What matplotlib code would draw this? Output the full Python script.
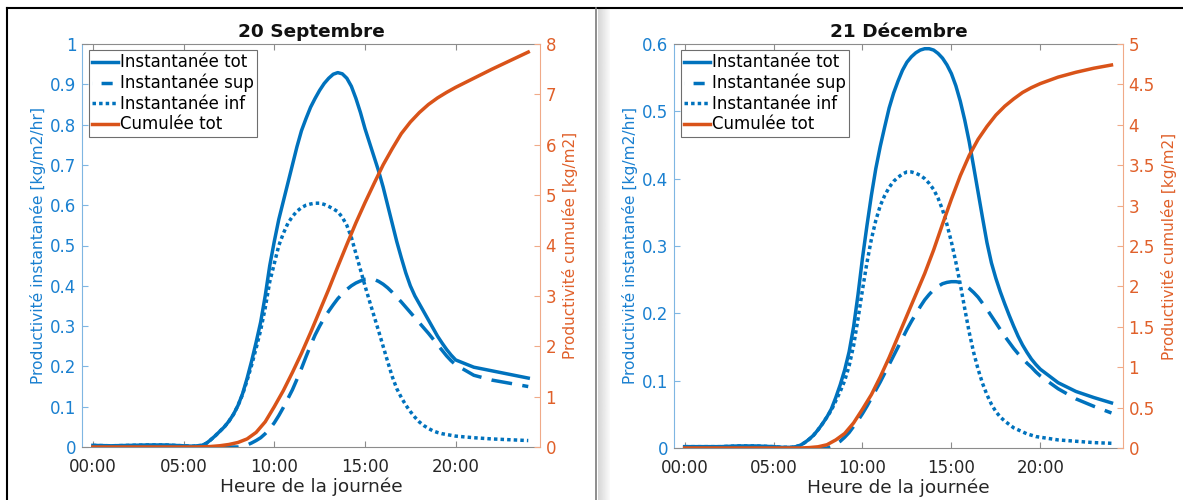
import numpy as np
import matplotlib
matplotlib.use('Agg')
import matplotlib.pyplot as plt
from matplotlib.lines import Line2D

plt.rcParams['font.family'] = ['DejaVu Sans']

BLUE = '#0072BD'
ORANGE = '#D95319'

# hours for the instantaneous curves
hours_q = [0, 1, 2, 3, 4, 5, 5.5, 6, 6.25, 6.5, 6.75, 7, 7.25, 7.5, 7.75, 8, 8.25, 8.5, 8.75,
           9, 9.25, 9.5, 9.75, 10, 10.25, 10.5, 10.75, 11, 11.25, 11.5, 11.75, 12, 12.25,
           12.5, 12.75, 13, 13.25, 13.5, 13.75, 14, 14.25, 14.5, 14.75, 15, 15.25, 15.5,
           15.75, 16, 16.25, 16.5, 16.75, 17, 17.25, 17.5, 17.75, 18, 18.25, 18.5, 18.75,
           19, 19.25, 19.5, 19.75, 20, 21, 22, 23, 24]
# hours for the cumulative curves
hours_h = [0, 1, 2, 3, 4, 5, 5.5, 6, 6.5, 7, 7.5, 8, 8.5, 9, 9.5, 10, 10.5, 11, 11.5, 12,
           12.5, 13, 13.5, 14, 14.5, 15, 15.5, 16, 16.5, 17, 17.5, 18, 18.5, 19, 19.5, 20,
           21, 22, 23, 24]

# 20 Septembre
sep_tot = [0.004, 0.003, 0.004, 0.005, 0.005, 0.003, 0.002,
           0.004, 0.009, 0.018, 0.028, 0.039, 0.05, 0.064, 0.081, 0.103,
           0.132, 0.17, 0.213, 0.26, 0.31, 0.375, 0.45, 0.51, 0.565, 0.61, 0.655, 0.70,
           0.745, 0.785, 0.815, 0.843, 0.865, 0.885, 0.902, 0.915, 0.925, 0.929, 0.926,
           0.915, 0.895, 0.865, 0.83, 0.79, 0.755, 0.72, 0.685, 0.645, 0.60, 0.555, 0.51,
           0.47, 0.432, 0.40, 0.375, 0.355, 0.335, 0.315, 0.295, 0.275, 0.258, 0.242,
           0.228, 0.216,
           0.198, 0.189, 0.18, 0.171]
sep_sup = [0, 0, 0, 0, 0, 0, 0,
           0, 0, 0, 0, 0, 0, 0, 0, 0,
           0.002, 0.005, 0.01, 0.016, 0.023, 0.033, 0.045, 0.06, 0.078, 0.098, 0.12, 0.142,
           0.168, 0.195, 0.224, 0.252, 0.278, 0.30, 0.32, 0.337, 0.353, 0.368, 0.38, 0.391,
           0.40, 0.407, 0.412, 0.416, 0.417, 0.416, 0.411, 0.404, 0.395, 0.384, 0.372, 0.36,
           0.347, 0.334, 0.321, 0.308, 0.295, 0.282, 0.268, 0.254, 0.24, 0.226, 0.214, 0.204,
           0.178, 0.166, 0.158, 0.150]
sep_inf = [0.004, 0.003, 0.004, 0.005, 0.005, 0.003, 0.002,
           0.004, 0.009, 0.018, 0.028, 0.039, 0.05, 0.064, 0.081, 0.103,
           0.13, 0.165, 0.203, 0.245, 0.29, 0.345, 0.41, 0.455, 0.50, 0.53, 0.555, 0.572,
           0.585, 0.594, 0.60, 0.603, 0.605, 0.605, 0.602, 0.597, 0.591, 0.584, 0.57, 0.55,
           0.52, 0.48, 0.44, 0.40, 0.362, 0.325, 0.288, 0.25, 0.212, 0.175, 0.145, 0.123,
           0.104, 0.088, 0.074, 0.062, 0.053, 0.046, 0.04, 0.036, 0.033, 0.031, 0.029, 0.027,
           0.023, 0.020, 0.018, 0.016]
sep_cum = [0, 0, 0, 0, 0, 0, 0, 0.003, 0.01, 0.025, 0.05, 0.09,
           0.16, 0.29, 0.50, 0.80, 1.12, 1.48, 1.86, 2.27, 2.70, 3.13, 3.58, 4.02, 4.45,
           4.85, 5.23, 5.60, 5.92, 6.22, 6.45, 6.64, 6.80, 6.93, 7.04, 7.14, 7.32, 7.50,
           7.67, 7.84]

# 21 Décembre
dec_tot = [0.002, 0.002, 0.002, 0.003, 0.003, 0.002, 0.001,
           0.001, 0.002, 0.004, 0.008, 0.013, 0.019, 0.027, 0.036, 0.046,
           0.058, 0.075, 0.094, 0.116, 0.143, 0.18, 0.228, 0.282, 0.33, 0.375, 0.415, 0.448,
           0.477, 0.505, 0.527, 0.545, 0.561, 0.573, 0.581, 0.587, 0.591, 0.593, 0.593, 0.591,
           0.586, 0.579, 0.569, 0.556, 0.538, 0.515, 0.487, 0.455, 0.418, 0.38, 0.342, 0.305,
           0.275, 0.252, 0.232, 0.214, 0.197, 0.181, 0.166, 0.153, 0.142, 0.132, 0.124, 0.117,
           0.097, 0.084, 0.075, 0.067]
dec_sup = [0, 0, 0, 0, 0, 0, 0,
           0, 0, 0, 0, 0, 0, 0, 0, 0,
           0.002, 0.006, 0.01, 0.016, 0.023, 0.032, 0.041, 0.051, 0.062, 0.074, 0.086, 0.098,
           0.111, 0.124, 0.137, 0.15, 0.163, 0.176, 0.188, 0.199, 0.21, 0.22, 0.228, 0.235,
           0.24, 0.244, 0.246, 0.247, 0.247, 0.246, 0.242, 0.237, 0.231, 0.224, 0.215, 0.206,
           0.196, 0.186, 0.176, 0.166, 0.157, 0.148, 0.14, 0.133, 0.126, 0.12, 0.113, 0.107,
           0.088, 0.073, 0.062, 0.052]
dec_inf = [0.002, 0.002, 0.002, 0.003, 0.003, 0.002, 0.001,
           0.001, 0.002, 0.004, 0.008, 0.013, 0.019, 0.027, 0.036, 0.046,
           0.056, 0.07, 0.084, 0.10, 0.122, 0.152, 0.192, 0.235, 0.275, 0.31, 0.338, 0.36,
           0.375, 0.387, 0.396, 0.402, 0.407, 0.41, 0.41, 0.408, 0.405, 0.40, 0.393, 0.384,
           0.371, 0.354, 0.332, 0.306, 0.276, 0.243, 0.207, 0.172, 0.142, 0.117, 0.096, 0.079,
           0.065, 0.054, 0.046, 0.04, 0.035, 0.03, 0.027, 0.024, 0.021, 0.019, 0.017, 0.016,
           0.012, 0.010, 0.008, 0.007]
dec_cum = [0, 0, 0, 0, 0, 0, 0, 0, 0, 0.005, 0.015, 0.04,
           0.10, 0.18, 0.31, 0.48, 0.66, 0.88, 1.12, 1.38, 1.64, 1.90, 2.16, 2.45,
           2.77, 3.08, 3.37, 3.62, 3.82, 3.98, 4.12, 4.23, 4.32, 4.40, 4.46, 4.51,
           4.59, 4.65, 4.70, 4.74]

xtick_pos = [0, 5, 10, 15, 20]
xtick_labels = ['00:00', '05:00', '10:00', '15:00', '20:00']
legend_labels = ['Instantanée tot', 'Instantanée sup', 'Instantanée inf', 'Cumulée tot']

LW = 2.5
DASHED = (0, (6, 3))
DOTTED = (0, (1, 0.9))


def draw_panel(ax, title, tot, sup, inf, cum, left_ticks, right_ticks):
    ax2 = ax.twinx()
    ax.plot(hours_q, tot, color=BLUE, lw=LW)
    ax.plot(hours_q, sup, color=BLUE, lw=LW, linestyle=DASHED)
    ax.plot(hours_q, inf, color=BLUE, lw=LW, linestyle=DOTTED)
    ax2.plot(hours_h, cum, color=ORANGE, lw=LW)

    ax.set_xlim(-0.6, 24.65)
    ax.set_ylim(left_ticks[0], left_ticks[-1])
    ax2.set_ylim(right_ticks[0], right_ticks[-1])
    ax.set_xticks(xtick_pos)
    ax.set_xticklabels(xtick_labels)
    ax.set_yticks(left_ticks)
    ax.set_yticklabels(['%g' % round(v, 2) for v in left_ticks])
    ax2.set_yticks(right_ticks)
    ax2.set_yticklabels(['%g' % round(v, 2) for v in right_ticks])

    ax.tick_params(axis='x', direction='in', top=True, bottom=True, length=4, width=0.8,
                   color='#8c8c8c', labelcolor='#262626', labelsize=12, pad=8)
    ax.tick_params(axis='y', direction='in', left=True, right=False, length=4, width=0.8,
                   color='#7fb6e2', labelcolor='#1a80d0', labelsize=12, pad=4)
    ax2.tick_params(axis='y', direction='in', right=True, left=False, length=4, width=0.8,
                    color='#f0aa88', labelcolor='#e0602a', labelsize=12, pad=4)

    for sp in ['top', 'bottom']:
        ax.spines[sp].set_color('#8c8c8c')
        ax.spines[sp].set_linewidth(0.8)
    ax.spines['left'].set_color('#7fb6e2')
    ax.spines['right'].set_visible(False)
    for sp in ['top', 'bottom', 'left']:
        ax2.spines[sp].set_visible(False)
    ax2.spines['right'].set_color('#f0aa88')
    ax2.spines['right'].set_linewidth(0.8)

    ax.set_xlabel('Heure de la journée', fontsize=13.3, color='#262626', labelpad=1)
    ax.set_ylabel('Productivité instantanée [kg/m2/hr]', fontsize=11.2, color='#1a80d0',
                  labelpad=3)
    ax2.set_ylabel('Productivité cumulée [kg/m2]', fontsize=11, color='#e0602a', labelpad=4)
    ax.set_title(title, fontsize=13.3, fontweight='bold', color='#111111', pad=5)

    handles = [Line2D([], [], color=BLUE, lw=LW),
               Line2D([], [], color=BLUE, lw=LW, linestyle=(0, (0.01, 2.6, 3.2, 10))),
               Line2D([], [], color=BLUE, lw=LW, linestyle=DOTTED),
               Line2D([], [], color=ORANGE, lw=LW)]
    leg = ax2.legend(handles, legend_labels, loc='upper left', bbox_to_anchor=(0.015, 0.985),
                     borderaxespad=0, fontsize=12, handlelength=1.55, handletextpad=0.1,
                     labelspacing=0.15, borderpad=0.2, fancybox=False, edgecolor='#6e6e6e',
                     framealpha=1)
    leg.get_frame().set_linewidth(0.8)


fig = plt.figure(figsize=(11.83, 5.0), dpi=100)
ax_sep = fig.add_axes([0.0693, 0.106, 0.3872, 0.806])
ax_dec = fig.add_axes([0.5697, 0.104, 0.3796, 0.808])

draw_panel(ax_sep, '20 Septembre', sep_tot, sep_sup, sep_inf, sep_cum,
           [0, 0.1, 0.2, 0.3, 0.4, 0.5, 0.6, 0.7, 0.8, 0.9, 1], [0, 1, 2, 3, 4, 5, 6, 7, 8])
draw_panel(ax_dec, '21 Décembre', dec_tot, dec_sup, dec_inf, dec_cum,
           [0, 0.1, 0.2, 0.3, 0.4, 0.5, 0.6],
           [0, 0.5, 1, 1.5, 2, 2.5, 3, 3.5, 4, 4.5, 5])

# window frame and separator
fig.add_artist(Line2D([7 / 1183, 1], [1 - 8 / 500, 1 - 8 / 500], color='black', lw=1.5))
fig.add_artist(Line2D([7 / 1183, 7 / 1183], [0, 1 - 8 / 500], color='black', lw=1.5))
fig.add_artist(Line2D([596 / 1183, 596 / 1183], [0, 1 - 8 / 500], color='#7a7a7a', lw=1.2))
grad = fig.add_axes([597.5 / 1183, 0, 12 / 1183, 1 - 9 / 500])
grad.imshow(np.linspace(0.84, 0.98, 20)[None, :], cmap='gray', vmin=0, vmax=1, aspect='auto')
grad.axis('off')

fig.savefig('out.png', dpi=100)
